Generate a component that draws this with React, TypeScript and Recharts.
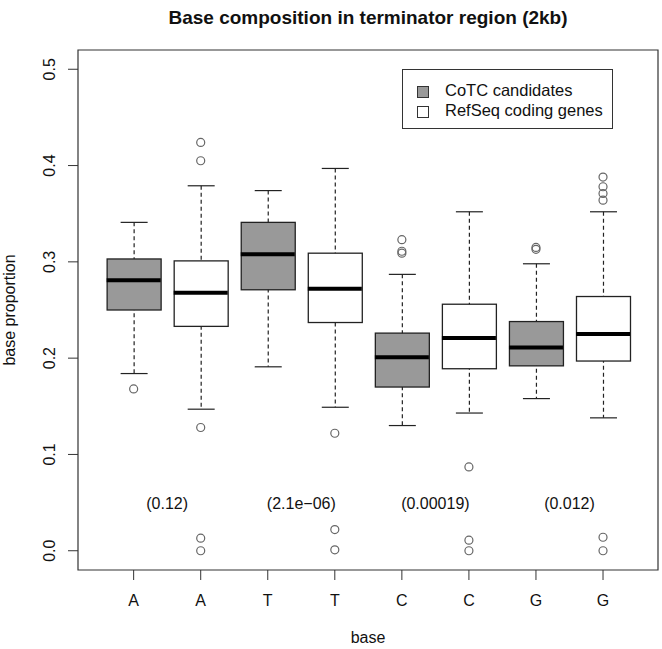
import React from 'react'
import { ComposedChart, XAxis, YAxis, Bar, Scatter, ReferenceArea } from 'recharts'

const bases = ['A', 'A', 'T', 'T', 'C', 'C', 'G', 'G']
const groups = ['CoTC', 'RefSeq', 'CoTC', 'RefSeq', 'CoTC', 'RefSeq', 'CoTC', 'RefSeq']
const whiskerLow = [0.184, 0.147, 0.191, 0.149, 0.13, 0.143, 0.158, 0.138]
const q1s = [0.25, 0.233, 0.271, 0.237, 0.17, 0.189, 0.192, 0.197]
const medians = [0.281, 0.268, 0.308, 0.272, 0.201, 0.221, 0.211, 0.225]
const q3s = [0.303, 0.301, 0.341, 0.309, 0.226, 0.256, 0.238, 0.264]
const whiskerHigh = [0.341, 0.379, 0.374, 0.397, 0.287, 0.352, 0.298, 0.352]
const outliers = [
  [0.168],
  [0.424, 0.405, 0.128, 0.013, 0.0],
  [],
  [0.122, 0.022, 0.001],
  [0.323, 0.311, 0.309],
  [0.087, 0.011, 0.0],
  [0.315, 0.313],
  [0.388, 0.378, 0.371, 0.364, 0.014, 0.0],
]
const pLabels = ['(0.12)', '(2.1e\u221206)', '(0.00019)', '(0.012)']
const pPositions = [1.5, 3.5, 5.5, 7.5]
const pHeight = 0.05
const yTicks = [0, 0.1, 0.2, 0.3, 0.4, 0.5]
const xTicks = [1, 2, 3, 4, 5, 6, 7, 8]

const boxData = bases.map((b, i) => ({
  x: i + 1,
  base: b,
  group: groups[i],
  lo: whiskerLow[i],
  q1: q1s[i],
  med: medians[i],
  q3: q3s[i],
  hi: whiskerHigh[i],
}))
const outlierData = outliers.flatMap((vals, i) => vals.map((v) => ({ x: i + 1, y: v })))
const pData = pLabels.map((t, i) => ({ x: pPositions[i], y: pHeight, label: t }))

const FONT = '"Liberation Sans", Arial, sans-serif'
const X_DOMAIN: [number, number] = [0.17, 8.82]
const BOX_W = 54

const WhiskerShape = (props: any) => {
  const { x, y, width, height } = props
  const cx = x + width / 2
  const cap = width / 4
  return (
    <g stroke="#222" strokeWidth={1.2}>
      <line x1={cx} x2={cx} y1={y} y2={y + height} strokeDasharray="4 3" />
      <line x1={cx - cap} x2={cx + cap} y1={y} y2={y} />
      <line x1={cx - cap} x2={cx + cap} y1={y + height} y2={y + height} />
    </g>
  )
}

const BoxShape = (props: any) => {
  const { x, y, width, height, payload } = props
  return (
    <rect
      x={x}
      y={y}
      width={width}
      height={height}
      fill={payload.group === 'CoTC' ? '#999999' : '#ffffff'}
      stroke="#222"
      strokeWidth={1.3}
    />
  )
}

const MedianShape = (props: any) => (
  <line x1={props.cx - BOX_W / 2} x2={props.cx + BOX_W / 2} y1={props.cy} y2={props.cy} stroke="#000" strokeWidth={4} />
)

const OutlierShape = (props: any) => (
  <circle cx={props.cx} cy={props.cy} r={4} fill="none" stroke="#666" strokeWidth={1.2} />
)

const PLabelShape = (props: any) => (
  <text x={props.cx} y={props.cy + 6} textAnchor="middle" fontSize={16} fontFamily={FONT} fill="#111">
    {props.payload.label}
  </text>
)

const XTick = (props: any) => (
  <text x={props.x} y={props.y + 24} textAnchor="middle" fontSize={16} fontFamily={FONT} fill="#111">
    {bases[props.payload.value - 1]}
  </text>
)

const YTick = (props: any) => {
  const tx = props.x - 11
  return (
    <text
      x={tx}
      y={props.y}
      transform={`rotate(-90 ${tx} ${props.y})`}
      textAnchor="middle"
      fontSize={16}
      fontFamily={FONT}
      fill="#111"
    >
      {props.payload.value.toFixed(1)}
    </text>
  )
}

export default function App() {
  return (
    <div style={{ position: 'absolute', left: 0, top: 0, width: 662, height: 649, background: '#fff', fontFamily: FONT }}>
      <div
        style={{
          position: 'absolute',
          left: 78,
          top: 8,
          width: 580,
          textAlign: 'center',
          fontSize: 19,
          lineHeight: '19px',
          fontWeight: 'bold',
          color: '#111',
        }}
      >
        Base composition in terminator region (2kb)
      </div>
      <ComposedChart width={662} height={649} data={boxData} margin={{ top: 50, right: 4, bottom: 34, left: 0 }}>
        <XAxis
          type="number"
          dataKey="x"
          domain={X_DOMAIN}
          ticks={xTicks}
          axisLine={false}
          tickSize={10}
          tickLine={{ stroke: '#333' }}
          tick={<XTick />}
          height={45}
          interval={0}
          label={{
            content: (p: any) => (
              <text
                x={p.viewBox.x + p.viewBox.width / 2}
                y={p.viewBox.y + 73}
                textAnchor="middle"
                fontSize={16}
                fontFamily={FONT}
                fill="#111"
              >
                base
              </text>
            ),
          }}
        />
        <XAxis xAxisId="w" type="number" dataKey="x" domain={X_DOMAIN} hide />
        <XAxis xAxisId="p" type="number" dataKey="x" domain={X_DOMAIN} hide />
        <YAxis
          type="number"
          domain={[-0.02, 0.52]}
          ticks={yTicks}
          width={78}
          axisLine={false}
          tickSize={10}
          tickLine={{ stroke: '#333' }}
          tick={<YTick />}
          interval={0}
          label={{
            content: (p: any) => {
              const lx = p.viewBox.x + 15
              const ly = p.viewBox.y + p.viewBox.height / 2
              return (
                <text
                  x={lx}
                  y={ly}
                  transform={`rotate(-90 ${lx} ${ly})`}
                  textAnchor="middle"
                  fontSize={16}
                  fontFamily={FONT}
                  fill="#111"
                >
                  base proportion
                </text>
              )
            },
          }}
        />
        <ReferenceArea x1={X_DOMAIN[0]} x2={X_DOMAIN[1]} y1={-0.02} y2={0.52} fill="none" stroke="#333" strokeWidth={1.2} />
        <Bar xAxisId="w" dataKey={(d: any) => [d.lo, d.hi]} barSize={BOX_W} shape={<WhiskerShape />} isAnimationActive={false} />
        <Bar dataKey={(d: any) => [d.q1, d.q3]} barSize={BOX_W} shape={<BoxShape />} isAnimationActive={false} />
        <Scatter data={boxData} dataKey="med" shape={<MedianShape />} isAnimationActive={false} />
        <Scatter data={outlierData} dataKey="y" shape={<OutlierShape />} isAnimationActive={false} />
        <Scatter xAxisId="p" data={pData} dataKey="y" shape={<PLabelShape />} isAnimationActive={false} />
      </ComposedChart>
      <div
        style={{
          position: 'absolute',
          left: 402,
          top: 69,
          width: 209,
          height: 58,
          border: '1px solid #333',
          fontSize: 16.5,
          lineHeight: '16.5px',
          color: '#111',
        }}
      >
        <div style={{ position: 'absolute', left: 14, top: 16, width: 10, height: 10, background: '#999999', border: '1px solid #333' }} />
        <div style={{ position: 'absolute', left: 42, top: 12, whiteSpace: 'nowrap' }}>CoTC candidates</div>
        <div style={{ position: 'absolute', left: 14, top: 36, width: 10, height: 10, background: '#fff', border: '1px solid #333' }} />
        <div style={{ position: 'absolute', left: 42, top: 32, whiteSpace: 'nowrap' }}>RefSeq coding genes</div>
      </div>
    </div>
  )
}
